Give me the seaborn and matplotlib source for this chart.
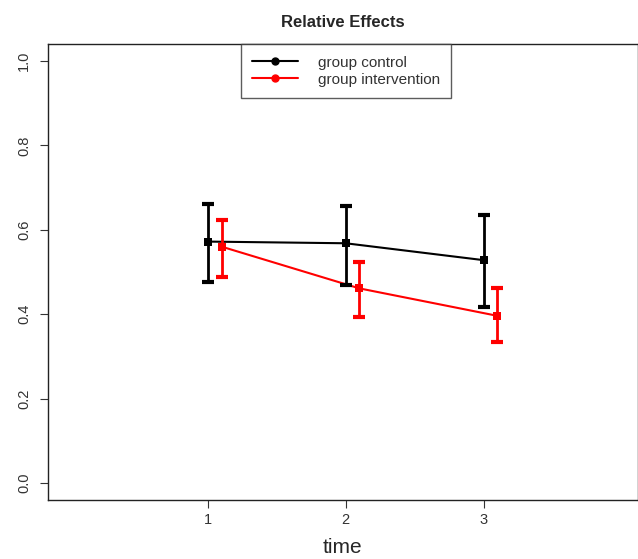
import numpy as np
import pandas as pd
import seaborn as sns
from matplotlib import pyplot as plt
from matplotlib.lines import Line2D

# values
time = [1, 2, 3]
control_mean = [0.572, 0.568, 0.528]
control_low = [0.475, 0.469, 0.416]
control_high = [0.660, 0.656, 0.634]
interv_mean = [0.560, 0.461, 0.396]
interv_low = [0.488, 0.394, 0.333]
interv_high = [0.622, 0.524, 0.462]
groups = ["group control", "group intervention"]
colors = ["black", "red"]

df = pd.DataFrame({
    "time": time * 2,
    "effect": control_mean + interv_mean,
    "group": [groups[0]] * 3 + [groups[1]] * 3,
})
# small horizontal shift for the intervention group
shift = {groups[0]: 0.0, groups[1]: 0.1}
df["x"] = df["time"] + df["group"].map(shift)
df["low"] = control_low + interv_low
df["high"] = control_high + interv_high

sns.set_style("white")
plt.rcParams["font.family"] = ["Liberation Sans", "DejaVu Sans"]

fig = plt.figure(figsize=(6.38, 5.59), dpi=100)
ax = fig.add_axes([0.075, 0.106, 0.925, 0.815])

sns.lineplot(data=df, x="x", y="effect", hue="group", palette=colors,
             marker="s", markersize=6, markeredgewidth=0, linewidth=1.5,
             legend=False, ax=ax)

for g, c in zip(groups, colors):
    sub = df[df["group"] == g]
    ax.errorbar(sub["x"], sub["effect"],
                yerr=[sub["effect"] - sub["low"], sub["high"] - sub["effect"]],
                fmt="none", ecolor=c, elinewidth=2, capsize=4.5, capthick=3)

ax.set_xlim(-0.16, 4.12)
ax.set_ylim(-0.04, 1.04)
ax.set_xticks(time)
ax.set_yticks([0.0, 0.2, 0.4, 0.6, 0.8, 1.0])
ax.set_yticklabels(["0.0", "0.2", "0.4", "0.6", "0.8", "1.0"], rotation=90, va="center")
ax.tick_params(axis="both", direction="out", length=6, width=0.8, colors="#333333",
               labelsize=10.5, labelcolor="#333333", left=True, bottom=True)
ax.tick_params(axis="y", pad=6)
for s in ax.spines.values():
    s.set_color("#222222")
    s.set_linewidth(1)

ax.set_xlabel("time", fontsize=15, labelpad=8)
ax.set_ylabel("")
ax.set_title("Relative Effects", fontsize=12, fontweight="bold", pad=12)

handles = [Line2D([0], [0], color=c, marker="o", markersize=5, linewidth=1.5)
           for c in colors]
leg = ax.legend(handles, groups, loc="upper center", bbox_to_anchor=(0.505, 1.0),
                frameon=True, fancybox=False, edgecolor="#333333", fontsize=11,
                borderpad=0.75, handlelength=3.0, handletextpad=1.3,
                labelspacing=0.2, borderaxespad=0)
leg.get_frame().set_linewidth(1)
for t in leg.get_texts():
    t.set_color("#333333")

fig.savefig("out.png", dpi=100)
